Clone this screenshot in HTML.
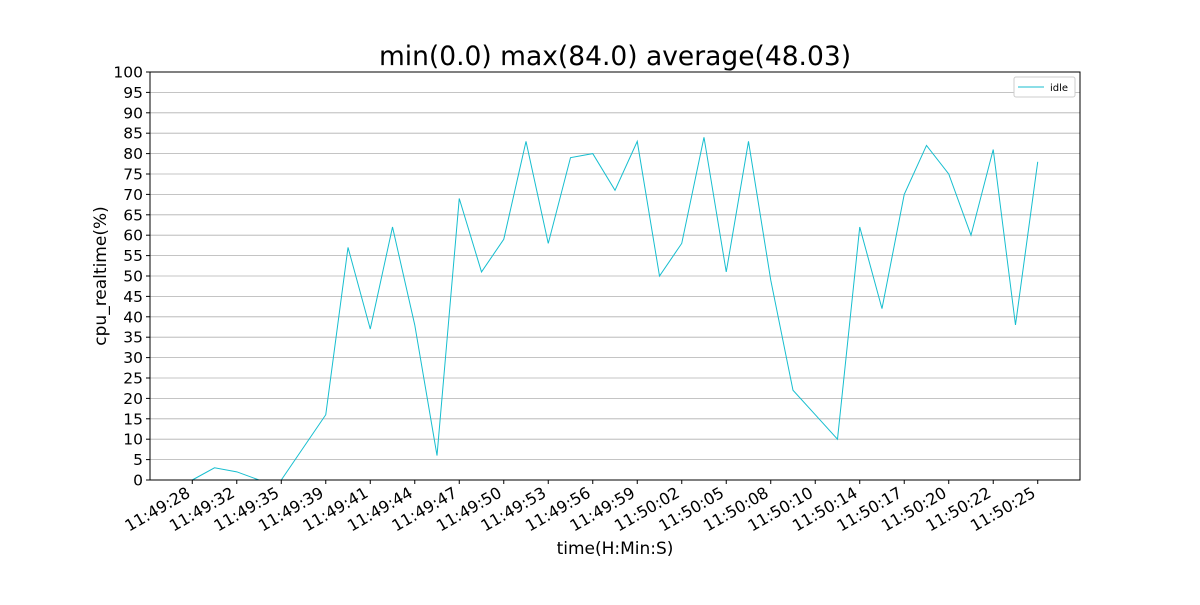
<!DOCTYPE html>
<html><head><meta charset="utf-8"><style>
body{margin:0;background:#fff;}
svg text{font-family:"DejaVu Sans","Liberation Sans",sans-serif;fill:#000;}
</style></head><body>
<svg id="chart" width="1200" height="600" xmlns="http://www.w3.org/2000/svg">
<text x="615" y="65" font-size="26.5" text-anchor="middle">min(0.0) max(84.0) average(48.03)</text>
<g id="grid"></g>
<g id="yticks"></g>
<g id="xticks"></g>
<polyline id="line" fill="none" stroke="#17becf" stroke-width="1"/>
<rect x="150" y="72" width="930" height="408" fill="none" stroke="#000" stroke-width="1"/>
<text transform="translate(106,276) rotate(-90)" font-size="17" text-anchor="middle">cpu_realtime(%)</text>
<text x="615" y="554" font-size="17" text-anchor="middle">time(H:Min:S)</text>
<g>
<rect x="1014" y="77" width="61" height="20" fill="#fff" stroke="#ccc" rx="2"/>
<line x1="1018" y1="87" x2="1044" y2="87" stroke="#17becf"/>
<text x="1050" y="91" font-size="10">idle</text>
</g>
</svg>
<script>
const labels=["11:49:28","11:49:32","11:49:35","11:49:39","11:49:41","11:49:44","11:49:47","11:49:50","11:49:53","11:49:56","11:49:59","11:50:02","11:50:05","11:50:08","11:50:10","11:50:14","11:50:17","11:50:20","11:50:22","11:50:25"];
const values=[0,3,2,0,0,8,16,57,37,62,38,6,69,51,59,83,58,79,80,71,83,50,58,84,51,83,49,22,16,10,62,42,70,82,75,60,81,38,78];
const yTicks=[0,5,10,15,20,25,30,35,40,45,50,55,60,65,70,75,80,85,90,95,100];
const ns="http://www.w3.org/2000/svg";
const n=values.length, pad=(n-1)*0.05;
function xs(i){return 150+(i+pad)/((n-1)+2*pad)*930;}
function ys(v){return 480-v/100*408;}
const grid=document.getElementById('grid'),yt=document.getElementById('yticks'),xt=document.getElementById('xticks');
yTicks.forEach(v=>{
 const y=ys(v);
 const l=document.createElementNS(ns,'line');
 
 
 l.setAttribute('x1',150);l.setAttribute('x2',1080);l.setAttribute('y1',y);l.setAttribute('y2',y);l.setAttribute('stroke','#b0b0b0');l.setAttribute('stroke-width','0.8');
 grid.appendChild(l);
 const tk=document.createElementNS(ns,'line');
 
 
 tk.setAttribute('x1',146);tk.setAttribute('x2',150);tk.setAttribute('y1',y);tk.setAttribute('y2',y);tk.setAttribute('stroke','#000');
 yt.appendChild(tk);
 const t=document.createElementNS(ns,'text');
 
 
 t.setAttribute('x',143);t.setAttribute('y',y+5.5);t.setAttribute('font-size','15.5');t.setAttribute('text-anchor','end');
 t.textContent=v;yt.appendChild(t);
});
labels.forEach((s,k)=>{
 const x=xs(k*2);
 const tk=document.createElementNS(ns,'line');
 
 
 tk.setAttribute('x1',x);tk.setAttribute('x2',x);tk.setAttribute('y1',480);tk.setAttribute('y2',484);tk.setAttribute('stroke','#000');
 xt.appendChild(tk);
 const t=document.createElementNS(ns,'text');
 
 
 t.setAttribute('font-size','16');t.setAttribute('text-anchor','end');
 t.setAttribute('transform','translate('+(x-1)+',496) rotate(-30)');
 t.textContent=s;xt.appendChild(t);
});
document.getElementById('line').setAttribute('points',values.map((v,i)=>xs(i)+','+ys(v)).join(' '));
</script>
</body></html>
